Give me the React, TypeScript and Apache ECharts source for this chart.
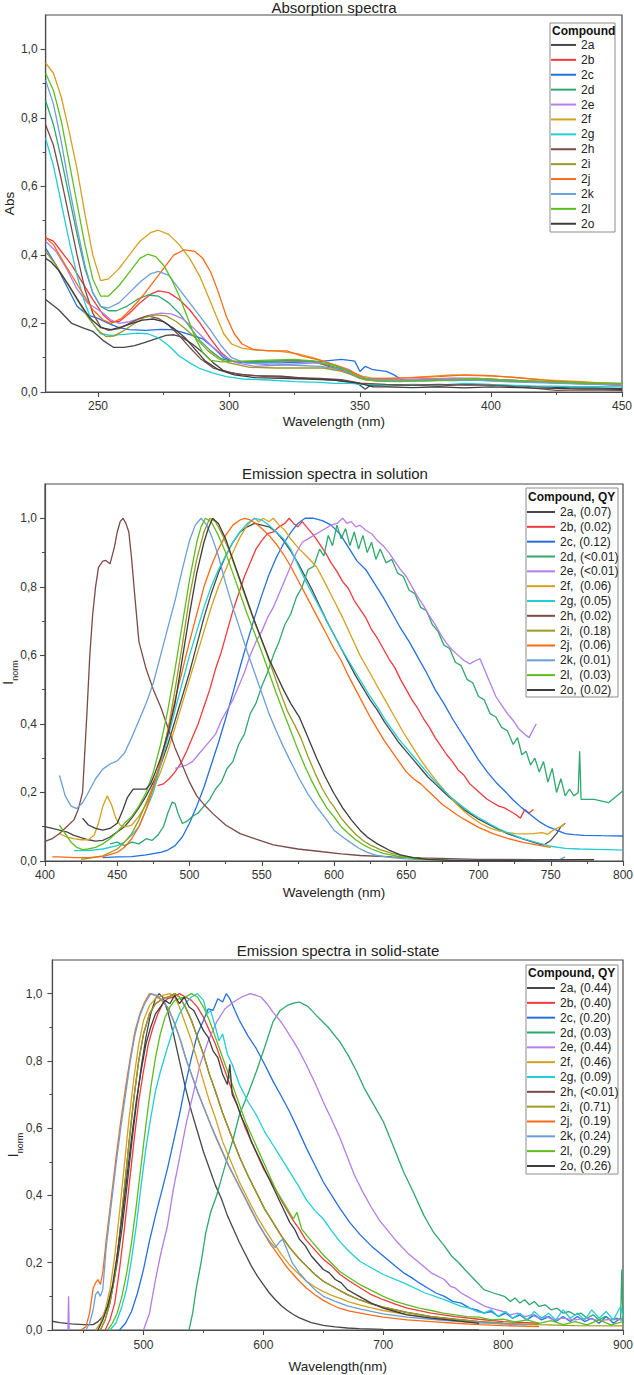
import React, { useEffect, useRef } from 'react';
import * as echarts from 'echarts';

// ---------- labels ----------
const compounds = ['2a', '2b', '2c', '2d', '2e', '2f', '2g', '2h', '2i', '2j', '2k', '2l', '2o'];
const seriesColors = [
  '#474747', '#f2393c', '#2470e0', '#2ea86c', '#b57de8', '#d4a020', '#22cdd5',
  '#7b4b47', '#9c9a20', '#fb6b17', '#6b9fd6', '#5cbe20', '#3d3d3d',
];
const solutionQY = ['(0.07)', '(0.02)', '(0.12)', '(<0.01)', '(<0.01)', '(0.06)', '(0.05)', '(0.02)', '(0.18)', '(0.06)', '(0.01)', '(0.03)', '(0.02)'];
const solidQY = ['(0.44)', '(0.40)', '(0.20)', '(0.03)', '(0.44)', '(0.46)', '(0.09)', '(<0.01)', '(0.71)', '(0.19)', '(0.24)', '(0.29)', '(0.26)'];

// ---------- tick values ----------
const absTicks = [250, 300, 350, 400, 450];
const absMinorTicks = [275, 325, 375, 425];
const solTicks = [400, 450, 500, 550, 600, 650, 700, 750, 800];
const solMinorTicks = [425, 475, 525, 575, 625, 675, 725, 775];
const ssTicks = [500, 600, 700, 800, 900];
const ssMinorTicks = [450, 550, 650, 750, 850];
const yTicks = [0, 0.2, 0.4, 0.6, 0.8, 1.0];
const yMinorTicks = [0.1, 0.3, 0.5, 0.7, 0.9];

// ---------- absorption spectra [wavelength nm, Abs] ----------
const abs2a = [[230,0.27],[235,0.24],[240,0.2],[244,0.188],[248,0.177],[252,0.15],[256,0.13],[260,0.13],[264,0.135],[268,0.145],[272,0.155],[276,0.165],[279,0.167],[282,0.16],[286,0.14],[290,0.115],[294,0.085],[298,0.062],[303,0.052],[310,0.048],[320,0.046],[330,0.04],[340,0.035],[348,0.028],[350,0.02],[352,0.008],[354,0.02],[360,0.018],[370,0.02],[380,0.017],[390,0.022],[400,0.02],[410,0.018],[420,0.015],[430,0.012],[440,0.012],[450,0.01]];
const abs2b = [[230,0.45],[233,0.44],[236,0.41],[240,0.37],[244,0.32],[248,0.27],[252,0.225],[255,0.205],[258,0.205],[262,0.23],[266,0.26],[270,0.285],[273,0.295],[277,0.29],[281,0.27],[285,0.24],[289,0.2],[293,0.155],[297,0.115],[301,0.09],[305,0.087],[315,0.09],[325,0.092],[332,0.09],[338,0.075],[344,0.06],[350,0.04],[355,0.035],[365,0.035],[375,0.038],[385,0.04],[395,0.04],[405,0.035],[420,0.03],[435,0.025],[450,0.02]];
const abs2c = [[230,0.42],[234,0.37],[238,0.31],[242,0.25],[246,0.225],[250,0.215],[254,0.2],[258,0.188],[262,0.182],[268,0.18],[274,0.183],[278,0.182],[282,0.175],[286,0.165],[290,0.155],[294,0.13],[298,0.1],[302,0.088],[310,0.085],[320,0.085],[330,0.088],[336,0.09],[343,0.095],[348,0.09],[350,0.06],[352,0.075],[355,0.065],[360,0.06],[363,0.05],[366,0.035],[375,0.035],[385,0.033],[395,0.035],[405,0.032],[420,0.028],[435,0.025],[450,0.02]];
const abs2d = [[230,0.85],[233,0.78],[236,0.68],[239,0.57],[242,0.46],[245,0.36],[248,0.29],[251,0.25],[254,0.237],[257,0.237],[261,0.25],[265,0.27],[269,0.283],[273,0.28],[277,0.26],[281,0.23],[285,0.19],[289,0.15],[293,0.12],[297,0.097],[301,0.09],[310,0.088],[320,0.09],[330,0.09],[338,0.078],[344,0.065],[350,0.042],[356,0.035],[365,0.033],[375,0.035],[385,0.04],[395,0.038],[405,0.035],[420,0.03],[435,0.025],[450,0.022]];
const abs2e = [[230,0.44],[234,0.41],[238,0.36],[242,0.3],[246,0.26],[249,0.245],[252,0.23],[255,0.21],[258,0.2],[262,0.205],[266,0.215],[270,0.225],[274,0.23],[278,0.228],[282,0.215],[286,0.19],[290,0.16],[294,0.13],[298,0.105],[303,0.085],[310,0.075],[318,0.078],[326,0.082],[334,0.085],[340,0.08],[346,0.065],[350,0.045],[355,0.035],[365,0.035],[375,0.038],[385,0.04],[395,0.04],[405,0.035],[420,0.03],[435,0.027],[450,0.025]];
const abs2f = [[230,0.96],[233,0.93],[236,0.86],[239,0.76],[242,0.65],[245,0.52],[248,0.4],[251,0.325],[254,0.33],[258,0.36],[262,0.4],[266,0.44],[270,0.465],[273,0.472],[277,0.46],[281,0.43],[285,0.39],[289,0.335],[292,0.28],[295,0.225],[298,0.17],[301,0.14],[305,0.128],[310,0.122],[318,0.12],[326,0.112],[332,0.1],[338,0.085],[344,0.068],[350,0.048],[355,0.04],[365,0.04],[375,0.045],[385,0.05],[395,0.048],[405,0.045],[420,0.035],[435,0.03],[450,0.022]];
const abs2g = [[230,0.74],[233,0.66],[236,0.55],[239,0.44],[242,0.34],[245,0.26],[248,0.2],[251,0.17],[255,0.165],[260,0.168],[265,0.172],[269,0.17],[273,0.158],[277,0.135],[281,0.105],[285,0.085],[289,0.068],[294,0.055],[299,0.045],[305,0.038],[315,0.035],[325,0.03],[335,0.028],[340,0.025],[346,0.026],[350,0.022],[360,0.02],[370,0.022],[380,0.02],[390,0.025],[400,0.022],[415,0.018],[430,0.016],[450,0.015]];
const abs2h = [[230,0.78],[233,0.72],[236,0.62],[239,0.51],[242,0.4],[245,0.3],[248,0.23],[251,0.19],[254,0.18],[258,0.185],[262,0.2],[266,0.215],[269,0.222],[273,0.215],[277,0.195],[281,0.165],[285,0.13],[289,0.098],[294,0.07],[300,0.057],[306,0.05],[315,0.045],[325,0.042],[335,0.04],[343,0.036],[350,0.026],[360,0.022],[370,0.02],[380,0.022],[390,0.02],[400,0.02],[410,0.015],[418,0.01],[425,0.005],[435,0.006],[450,0.005]];
const abs2i = [[230,0.41],[234,0.37],[238,0.32],[242,0.27],[246,0.22],[250,0.18],[253,0.162],[256,0.163],[260,0.18],[264,0.2],[268,0.218],[272,0.225],[276,0.222],[280,0.205],[284,0.18],[288,0.152],[292,0.12],[296,0.097],[300,0.085],[308,0.072],[318,0.07],[328,0.07],[336,0.07],[342,0.062],[348,0.048],[352,0.035],[360,0.032],[370,0.033],[380,0.035],[390,0.037],[400,0.035],[415,0.03],[430,0.025],[450,0.02]];
const abs2j = [[230,0.45],[233,0.43],[236,0.39],[240,0.34],[244,0.29],[248,0.24],[252,0.21],[255,0.2],[259,0.215],[263,0.245],[267,0.28],[271,0.32],[275,0.36],[279,0.4],[283,0.415],[287,0.41],[290,0.39],[293,0.35],[296,0.29],[299,0.22],[302,0.17],[305,0.14],[309,0.125],[315,0.12],[322,0.12],[328,0.105],[335,0.092],[342,0.075],[348,0.055],[352,0.04],[360,0.04],[370,0.042],[380,0.045],[390,0.05],[400,0.048],[410,0.042],[425,0.032],[440,0.025],[450,0.02]];
const abs2k = [[230,0.91],[233,0.84],[236,0.73],[239,0.6],[242,0.48],[245,0.37],[248,0.29],[251,0.25],[254,0.245],[258,0.26],[262,0.29],[266,0.32],[270,0.345],[273,0.352],[277,0.34],[281,0.3],[285,0.26],[289,0.22],[293,0.18],[297,0.135],[301,0.1],[306,0.085],[315,0.08],[325,0.078],[335,0.075],[343,0.065],[350,0.042],[356,0.035],[365,0.033],[375,0.032],[385,0.035],[395,0.034],[405,0.03],[420,0.027],[435,0.023],[450,0.02]];
const abs2l = [[230,0.93],[233,0.88],[236,0.79],[239,0.67],[242,0.55],[245,0.43],[248,0.33],[251,0.28],[254,0.28],[258,0.31],[262,0.35],[266,0.39],[269,0.402],[272,0.395],[275,0.37],[278,0.33],[281,0.28],[284,0.22],[287,0.16],[290,0.115],[293,0.092],[297,0.088],[305,0.09],[315,0.093],[325,0.095],[333,0.09],[340,0.078],[346,0.06],[350,0.04],[356,0.032],[365,0.03],[375,0.033],[385,0.035],[395,0.038],[405,0.035],[420,0.03],[435,0.027],[450,0.025]];
const abs2o = [[230,0.39],[232,0.38],[235,0.355],[239,0.31],[243,0.26],[247,0.215],[251,0.188],[255,0.182],[259,0.19],[263,0.2],[267,0.21],[271,0.213],[275,0.205],[279,0.185],[283,0.16],[287,0.125],[291,0.09],[296,0.065],[302,0.05],[310,0.042],[320,0.04],[330,0.038],[340,0.035],[350,0.025],[355,0.015],[360,0.015],[370,0.013],[380,0.015],[390,0.012],[400,0.015],[415,0.012],[430,0.01],[450,0.008]];

// ---------- emission in solution [wavelength nm, normalised intensity] ----------
const sol2a = [[400,0.1],[405,0.095],[410,0.09],[415,0.085],[420,0.075],[425,0.068],[430,0.062],[435,0.058],[440,0.06],[445,0.07],[450,0.085],[455,0.1],[460,0.125],[465,0.155],[470,0.19],[475,0.23],[480,0.28],[485,0.34],[490,0.41],[495,0.48],[500,0.55],[505,0.63],[510,0.71],[515,0.78],[520,0.84],[525,0.89],[530,0.93],[535,0.96],[540,0.975],[545,0.985],[550,0.98],[555,0.975],[560,0.96],[565,0.935],[570,0.905],[575,0.87],[580,0.83],[585,0.79],[590,0.745],[595,0.7],[600,0.66],[605,0.62],[610,0.58],[615,0.54],[620,0.505],[625,0.47],[630,0.44],[635,0.405],[640,0.375],[645,0.345],[650,0.32],[655,0.295],[660,0.27],[665,0.245],[670,0.225],[675,0.205],[680,0.185],[690,0.15],[700,0.122],[710,0.1],[720,0.08],[730,0.065],[740,0.052],[745,0.046],[750,0.06],[754,0.08],[757,0.1],[760,0.11]];
const sol2b = [[478,0.22],[482,0.225],[486,0.24],[490,0.26],[494,0.285],[498,0.32],[502,0.36],[506,0.4],[510,0.45],[514,0.5],[518,0.56],[522,0.61],[526,0.67],[530,0.73],[534,0.78],[538,0.83],[542,0.87],[546,0.91],[550,0.935],[554,0.955],[558,0.96],[562,0.975],[566,0.985],[569,1.0],[572,0.985],[575,0.975],[578,0.99],[582,0.97],[586,0.95],[590,0.925],[594,0.9],[598,0.87],[602,0.845],[606,0.815],[610,0.795],[614,0.76],[618,0.735],[622,0.71],[626,0.675],[630,0.65],[634,0.62],[638,0.59],[642,0.565],[646,0.53],[650,0.5],[654,0.47],[658,0.445],[662,0.415],[666,0.39],[670,0.36],[674,0.335],[678,0.31],[682,0.29],[686,0.265],[690,0.25],[694,0.225],[698,0.21],[702,0.195],[706,0.18],[710,0.17],[714,0.16],[718,0.155],[722,0.145],[726,0.135],[729,0.125],[732,0.15],[735,0.14],[738,0.15]];
const sol2c = [[440,0.01],[450,0.012],[460,0.013],[470,0.018],[480,0.025],[485,0.032],[490,0.045],[495,0.07],[500,0.11],[505,0.16],[510,0.215],[515,0.28],[520,0.345],[525,0.415],[530,0.49],[535,0.566],[540,0.64],[545,0.71],[550,0.775],[555,0.835],[560,0.885],[565,0.925],[570,0.958],[575,0.985],[580,1.0],[586,1.0],[592,0.993],[598,0.98],[604,0.955],[610,0.915],[616,0.875],[622,0.85],[628,0.81],[634,0.77],[640,0.725],[646,0.68],[652,0.64],[658,0.595],[664,0.55],[670,0.5],[676,0.46],[682,0.415],[688,0.375],[694,0.335],[700,0.295],[706,0.26],[712,0.23],[718,0.205],[724,0.178],[730,0.155],[736,0.135],[742,0.115],[748,0.1],[754,0.09],[760,0.08],[766,0.077],[773,0.075],[785,0.074],[800,0.073]];
const sol2d = [[445,0.05],[450,0.055],[455,0.045],[460,0.055],[465,0.05],[470,0.065],[474,0.06],[478,0.075],[482,0.1],[485,0.14],[488,0.172],[490,0.168],[492,0.14],[495,0.11],[498,0.115],[502,0.13],[506,0.14],[510,0.16],[514,0.18],[518,0.21],[522,0.23],[526,0.27],[530,0.29],[534,0.34],[538,0.37],[542,0.43],[546,0.46],[550,0.51],[554,0.55],[558,0.6],[562,0.64],[566,0.69],[570,0.72],[574,0.77],[578,0.8],[582,0.85],[586,0.86],[590,0.91],[593,0.89],[596,0.95],[599,0.92],[602,0.98],[605,0.94],[608,0.97],[611,0.92],[614,0.96],[617,0.91],[620,0.95],[623,0.9],[626,0.93],[629,0.88],[632,0.91],[636,0.87],[640,0.88],[644,0.84],[648,0.83],[652,0.79],[656,0.78],[660,0.74],[664,0.73],[668,0.69],[672,0.67],[676,0.63],[680,0.62],[684,0.58],[688,0.57],[692,0.53],[696,0.52],[700,0.48],[704,0.47],[708,0.43],[712,0.42],[716,0.39],[720,0.38],[724,0.34],[727,0.36],[730,0.31],[733,0.32],[736,0.28],[739,0.3],[742,0.26],[745,0.29],[748,0.23],[751,0.27],[754,0.2],[757,0.24],[760,0.19],[763,0.21],[766,0.19],[769,0.2],[770,0.32],[771,0.18],[780,0.18],[790,0.17],[800,0.205]];
const sol2e = [[490,0.27],[494,0.275],[498,0.28],[502,0.29],[506,0.31],[510,0.33],[514,0.35],[518,0.37],[522,0.41],[526,0.44],[530,0.47],[534,0.51],[538,0.55],[542,0.6],[546,0.64],[550,0.67],[554,0.71],[558,0.74],[562,0.78],[566,0.82],[570,0.86],[574,0.9],[578,0.93],[582,0.94],[586,0.95],[590,0.96],[594,0.97],[598,0.98],[602,0.985],[606,1.0],[609,0.985],[612,0.99],[615,0.975],[618,0.98],[622,0.965],[626,0.955],[630,0.935],[634,0.92],[638,0.9],[642,0.875],[646,0.85],[650,0.83],[654,0.8],[658,0.77],[662,0.745],[666,0.715],[670,0.69],[674,0.66],[678,0.635],[682,0.615],[686,0.6],[690,0.585],[694,0.575],[698,0.585],[701,0.59],[704,0.56],[708,0.52],[712,0.48],[716,0.455],[720,0.43],[724,0.41],[728,0.385],[732,0.37],[735,0.36],[738,0.385],[740,0.4]];
const sol2f = [[410,0.08],[415,0.07],[420,0.065],[425,0.062],[430,0.062],[434,0.075],[437,0.11],[440,0.16],[443,0.19],[446,0.165],[449,0.125],[452,0.105],[456,0.1],[460,0.105],[465,0.13],[470,0.165],[475,0.21],[480,0.26],[485,0.32],[490,0.39],[495,0.46],[500,0.53],[505,0.6],[510,0.67],[515,0.74],[520,0.8],[525,0.85],[530,0.9],[535,0.945],[540,0.98],[545,1.0],[548,0.99],[551,1.0],[555,0.99],[558,1.0],[562,0.98],[566,0.965],[570,0.94],[576,0.91],[582,0.885],[588,0.858],[594,0.81],[600,0.76],[606,0.71],[612,0.655],[618,0.6],[624,0.555],[630,0.51],[636,0.465],[642,0.42],[648,0.375],[654,0.335],[660,0.295],[666,0.26],[672,0.228],[678,0.198],[684,0.17],[690,0.145],[696,0.125],[702,0.108],[708,0.096],[714,0.088],[720,0.083],[726,0.08],[732,0.079],[738,0.08],[744,0.083],[748,0.078],[751,0.088],[754,0.095],[757,0.1],[760,0.11]];
const sol2g = [[420,0.03],[430,0.03],[440,0.035],[450,0.045],[455,0.055],[460,0.075],[465,0.1],[470,0.15],[475,0.2],[480,0.28],[485,0.36],[490,0.44],[495,0.52],[500,0.6],[505,0.67],[510,0.74],[515,0.8],[520,0.85],[525,0.89],[530,0.93],[535,0.96],[540,0.985],[545,1.0],[550,0.995],[555,0.98],[560,0.96],[565,0.94],[570,0.91],[575,0.865],[580,0.82],[585,0.78],[590,0.74],[595,0.7],[600,0.66],[605,0.62],[610,0.585],[615,0.55],[620,0.515],[625,0.48],[630,0.45],[635,0.415],[640,0.385],[645,0.355],[650,0.33],[655,0.305],[660,0.28],[665,0.255],[670,0.232],[675,0.21],[680,0.19],[685,0.172],[690,0.155],[695,0.14],[700,0.127],[705,0.115],[710,0.103],[715,0.092],[720,0.083],[730,0.066],[740,0.054],[750,0.043],[760,0.037],[770,0.035],[780,0.034],[790,0.033],[800,0.032]];
const sol2h = [[400,0.057],[405,0.065],[410,0.08],[415,0.1],[420,0.12],[423,0.15],[426,0.2],[429,0.43],[431,0.6],[433,0.72],[435,0.8],[437,0.857],[440,0.875],[442,0.877],[445,0.867],[448,0.915],[450,0.96],[452,0.99],[454,1.0],[456,0.985],[458,0.96],[460,0.88],[462,0.78],[465,0.64],[470,0.56],[475,0.5],[480,0.45],[485,0.39],[490,0.33],[495,0.28],[500,0.23],[505,0.19],[510,0.165],[516,0.139],[525,0.105],[535,0.08],[545,0.065],[558,0.047],[575,0.035],[592,0.027],[605,0.021],[618,0.016],[640,0.012],[660,0.009],[680,0.007],[700,0.005],[740,0.004],[780,0.004]];
const sol2i = [[425,0.005],[430,0.008],[440,0.015],[450,0.035],[455,0.055],[460,0.08],[465,0.12],[470,0.17],[475,0.22],[480,0.29],[485,0.38],[490,0.5],[495,0.63],[500,0.77],[505,0.88],[510,0.96],[514,1.0],[518,0.99],[523,0.95],[528,0.9],[533,0.84],[538,0.78],[543,0.72],[548,0.665],[553,0.61],[558,0.55],[563,0.49],[568,0.435],[573,0.395],[577,0.36],[582,0.305],[587,0.255],[592,0.21],[597,0.175],[600,0.158],[605,0.125],[610,0.1],[615,0.078],[620,0.06],[625,0.047],[632,0.033],[640,0.022],[650,0.012],[665,0.005],[680,0.002]];
const sol2j = [[405,0.012],[410,0.012],[420,0.01],[430,0.01],[440,0.013],[450,0.025],[455,0.04],[460,0.065],[465,0.1],[470,0.15],[475,0.215],[480,0.29],[485,0.38],[490,0.47],[495,0.555],[500,0.64],[505,0.72],[510,0.8],[515,0.86],[520,0.91],[525,0.95],[530,0.98],[535,0.995],[538,1.0],[542,0.995],[546,0.985],[550,0.97],[555,0.95],[560,0.925],[565,0.895],[570,0.86],[575,0.82],[580,0.78],[585,0.74],[590,0.7],[595,0.66],[600,0.62],[605,0.585],[610,0.54],[615,0.5],[620,0.46],[625,0.42],[630,0.385],[635,0.35],[640,0.32],[645,0.29],[650,0.26],[655,0.24],[660,0.225],[665,0.205],[670,0.185],[675,0.165],[680,0.15],[685,0.135],[690,0.122],[700,0.098],[710,0.08],[720,0.066],[730,0.055],[740,0.047],[750,0.04]];
const sol2k = [[410,0.25],[414,0.19],[418,0.16],[422,0.153],[426,0.17],[430,0.2],[435,0.24],[440,0.268],[445,0.283],[450,0.292],[455,0.315],[460,0.36],[465,0.41],[470,0.46],[475,0.52],[480,0.6],[485,0.68],[490,0.76],[495,0.85],[500,0.935],[504,0.98],[508,1.0],[512,0.98],[516,0.94],[520,0.89],[525,0.81],[530,0.74],[535,0.675],[540,0.61],[545,0.55],[550,0.49],[555,0.43],[560,0.38],[565,0.333],[570,0.29],[576,0.24],[582,0.195],[588,0.158],[594,0.125],[600,0.09],[606,0.07],[611,0.055],[617,0.038],[623,0.025],[630,0.016],[640,0.01],[650,0.006],[660,0.004],[700,0.002],[755,0.002],[760,0.012]];
const sol2l = [[410,0.105],[414,0.08],[418,0.055],[422,0.04],[426,0.033],[430,0.035],[435,0.04],[440,0.05],[445,0.065],[450,0.085],[455,0.11],[460,0.13],[465,0.16],[470,0.2],[475,0.26],[480,0.34],[485,0.44],[490,0.56],[495,0.69],[500,0.82],[505,0.93],[508,0.975],[511,1.0],[515,0.99],[520,0.95],[525,0.9],[530,0.84],[535,0.78],[540,0.72],[545,0.665],[550,0.61],[555,0.55],[560,0.49],[565,0.435],[570,0.38],[575,0.325],[580,0.275],[585,0.23],[590,0.19],[595,0.155],[600,0.129],[605,0.1],[610,0.08],[615,0.062],[620,0.048],[626,0.035],[634,0.022],[646,0.012],[660,0.005],[680,0.002]];
const sol2o = [[426,0.125],[430,0.105],[435,0.095],[440,0.09],[445,0.095],[450,0.11],[454,0.15],[457,0.185],[461,0.21],[466,0.21],[470,0.21],[473,0.225],[476,0.255],[480,0.3],[485,0.37],[490,0.46],[495,0.59],[500,0.72],[505,0.84],[510,0.93],[513,0.97],[516,1.0],[520,0.985],[525,0.94],[530,0.88],[535,0.82],[540,0.76],[545,0.7],[550,0.645],[555,0.59],[560,0.545],[565,0.5],[570,0.46],[576,0.42],[582,0.36],[588,0.3],[594,0.245],[600,0.197],[606,0.155],[612,0.12],[618,0.09],[623,0.07],[630,0.05],[638,0.032],[646,0.018],[655,0.01],[665,0.005],[680,0.002],[720,0.002],[780,0.004]];

// ---------- emission in solid state [wavelength nm, normalised intensity] ----------
const ss2a = [[424,0.026],[430,0.022],[440,0.018],[450,0.016],[458,0.016],[462,0.025],[466,0.04],[470,0.07],[474,0.12],[478,0.2],[482,0.3],[486,0.42],[490,0.55],[494,0.67],[498,0.78],[502,0.87],[506,0.94],[510,0.985],[513,1.0],[516,0.99],[520,0.95],[525,0.88],[530,0.8],[535,0.72],[540,0.65],[545,0.59],[550,0.53],[555,0.48],[560,0.43],[565,0.39],[570,0.34],[575,0.3],[580,0.26],[585,0.225],[590,0.19],[595,0.16],[600,0.135],[605,0.11],[610,0.09],[615,0.072],[620,0.058],[625,0.046],[630,0.036],[640,0.022],[650,0.014],[660,0.009],[670,0.006],[680,0.004],[700,0.002],[740,0.001],[780,0]];
const ss2b = [[468,0],[472,0.03],[476,0.08],[480,0.18],[484,0.3],[488,0.43],[492,0.56],[496,0.68],[500,0.77],[504,0.85],[508,0.9],[512,0.94],[516,0.97],[520,0.985],[525,0.99],[530,1.0],[535,0.99],[540,0.98],[545,0.96],[550,0.93],[555,0.89],[560,0.85],[565,0.8],[570,0.75],[575,0.7],[580,0.65],[585,0.6],[590,0.56],[595,0.52],[600,0.48],[605,0.45],[610,0.42],[615,0.385],[620,0.355],[625,0.325],[630,0.3],[635,0.27],[640,0.25],[645,0.23],[650,0.21],[657,0.19],[664,0.165],[672,0.145],[681,0.125],[690,0.105],[700,0.09],[710,0.077],[720,0.065],[740,0.05],[760,0.04],[780,0.032],[800,0.025],[830,0.02]];
const ss2c = [[480,0],[485,0.02],[490,0.055],[495,0.11],[500,0.18],[505,0.265],[510,0.34],[515,0.41],[520,0.48],[525,0.56],[530,0.64],[535,0.73],[540,0.81],[545,0.88],[550,0.92],[554,0.955],[558,0.95],[562,0.985],[566,0.975],[569,1.0],[572,0.985],[575,0.96],[580,0.92],[587,0.875],[594,0.837],[601,0.79],[608,0.74],[615,0.695],[622,0.648],[629,0.595],[636,0.54],[643,0.49],[650,0.44],[657,0.4],[664,0.361],[672,0.32],[681,0.282],[690,0.25],[700,0.22],[710,0.19],[717,0.17],[724,0.155],[730,0.14],[737,0.125],[744,0.11],[751,0.1],[758,0.085],[765,0.08],[772,0.065],[778,0.06],[784,0.05],[790,0.055],[796,0.04],[802,0.05],[808,0.035],[814,0.045],[820,0.03],[826,0.045],[832,0.03],[838,0.04],[844,0.025],[850,0.04],[856,0.025],[862,0.04],[868,0.025],[874,0.035],[880,0.02],[886,0.04],[892,0.02],[898,0.035],[900,0.025]];
const ss2d = [[538,0],[541,0.05],[544,0.124],[548,0.2],[552,0.29],[556,0.35],[561,0.4],[565,0.45],[569,0.5],[575,0.57],[580,0.64],[587,0.7],[594,0.767],[601,0.84],[608,0.916],[614,0.95],[620,0.965],[625,0.972],[630,0.975],[637,0.962],[644,0.936],[654,0.9],[664,0.856],[671,0.815],[678,0.767],[684,0.72],[692,0.67],[700,0.62],[708,0.55],[717,0.47],[725,0.41],[734,0.34],[742,0.29],[751,0.25],[757,0.22],[763,0.2],[768,0.18],[776,0.15],[784,0.12],[792,0.11],[801,0.1],[806,0.085],[810,0.095],[814,0.08],[818,0.09],[822,0.075],[826,0.085],[830,0.07],[835,0.075],[840,0.06],[845,0.065],[850,0.05],[855,0.055],[860,0.045],[865,0.05],[870,0.035],[875,0.045],[880,0.03],[885,0.04],[890,0.03],[895,0.035],[898,0.03],[899,0.18],[900,0.02]];
const ss2e = [[437,0],[437.5,0.1],[438,0],[470,null],[500,0],[505,0.05],[510,0.15],[514,0.22],[520,0.31],[525,0.42],[530,0.51],[536,0.62],[542,0.71],[547,0.787],[554,0.86],[561,0.916],[568,0.955],[575,0.975],[582,0.99],[589,1.0],[594,0.995],[598,0.99],[603,0.97],[608,0.945],[615,0.915],[622,0.876],[629,0.835],[636,0.787],[643,0.735],[650,0.678],[657,0.625],[664,0.57],[670,0.515],[676,0.46],[683,0.41],[690,0.365],[697,0.325],[705,0.29],[712,0.26],[720,0.23],[730,0.2],[740,0.17],[751,0.15],[756,0.13],[760,0.125],[765,0.11],[770,0.1],[775,0.09],[780,0.08],[785,0.07],[790,0.065],[795,0.06],[800,0.055],[806,0.045],[812,0.05],[818,0.04],[824,0.045],[830,0.035],[836,0.04],[842,0.03],[850,0.035],[860,0.03],[870,0.035],[880,0.028],[890,0.032],[900,0.03]];
const ss2f = [[460,0],[464,0.02],[468,0.06],[472,0.12],[476,0.22],[480,0.35],[484,0.49],[488,0.63],[492,0.75],[496,0.85],[500,0.92],[505,0.965],[510,0.985],[516,0.995],[522,1.0],[526,0.99],[530,0.96],[535,0.91],[540,0.86],[545,0.8],[550,0.74],[555,0.68],[560,0.63],[566,0.56],[573,0.5],[580,0.44],[587,0.39],[594,0.342],[601,0.3],[608,0.262],[615,0.225],[622,0.193],[629,0.168],[636,0.145],[643,0.128],[650,0.114],[657,0.103],[664,0.094],[672,0.083],[681,0.074],[690,0.066],[700,0.058],[720,0.046],[740,0.036],[760,0.028],[780,0.022],[800,0.018],[830,0.015]];
const ss2g = [[472,0],[477,0.02],[482,0.07],[486,0.124],[490,0.21],[494,0.31],[498,0.43],[502,0.54],[506,0.63],[510,0.71],[514,0.767],[520,0.84],[525,0.896],[530,0.94],[536,0.975],[540,0.99],[545,1.0],[550,0.98],[553,0.94],[556,0.95],[560,0.9],[563,0.86],[566,0.88],[570,0.82],[574,0.79],[580,0.73],[587,0.68],[594,0.64],[601,0.59],[608,0.55],[615,0.51],[622,0.47],[629,0.43],[636,0.386],[643,0.355],[650,0.33],[657,0.295],[664,0.262],[672,0.232],[681,0.203],[690,0.185],[700,0.165],[717,0.14],[735,0.11],[751,0.09],[758,0.08],[765,0.07],[772,0.065],[778,0.055],[784,0.05],[790,0.06],[796,0.04],[802,0.055],[808,0.035],[814,0.05],[820,0.03],[826,0.055],[832,0.035],[838,0.05],[844,0.03],[850,0.06],[856,0.035],[862,0.05],[868,0.03],[874,0.06],[880,0.035],[886,0.055],[892,0.03],[898,0.07],[900,0.04]];
const ss2h = [[464,0],[468,0.03],[472,0.08],[476,0.16],[480,0.28],[484,0.42],[488,0.56],[492,0.69],[496,0.8],[500,0.88],[505,0.94],[510,0.97],[516,0.985],[521,0.99],[526,1.0],[530,0.99],[535,0.96],[540,0.92],[545,0.87],[550,0.82],[555,0.76],[560,0.71],[566,0.645],[573,0.58],[580,0.515],[587,0.46],[594,0.41],[601,0.36],[608,0.32],[615,0.28],[622,0.245],[629,0.215],[636,0.19],[643,0.165],[650,0.145],[660,0.125],[670,0.105],[680,0.09],[690,0.078],[700,0.068],[720,0.052],[740,0.04],[760,0.032],[780,0.025],[800,0.02]];
const ss2i = [[464,0],[468,0.03],[472,0.08],[476,0.16],[480,0.28],[484,0.42],[488,0.56],[492,0.69],[496,0.8],[500,0.88],[505,0.94],[510,0.97],[516,0.985],[521,0.99],[526,1.0],[530,0.99],[535,0.96],[540,0.92],[545,0.87],[550,0.82],[555,0.76],[560,0.71],[566,0.645],[573,0.58],[580,0.515],[587,0.46],[594,0.41],[601,0.36],[608,0.32],[615,0.28],[622,0.245],[629,0.215],[636,0.19],[643,0.165],[650,0.145],[660,0.125],[670,0.105],[680,0.09],[690,0.078],[700,0.068],[720,0.052],[740,0.04],[760,0.032],[780,0.025],[800,0.02],[830,0.016],[860,0.013],[900,0.012]];
const ss2j = [[448,0],[452,0.01],[455,0.05],[458,0.124],[460,0.14],[462,0.15],[464,0.135],[466,0.17],[469,0.27],[473,0.39],[477,0.51],[481,0.62],[485,0.72],[489,0.81],[493,0.89],[497,0.94],[501,0.975],[505,1.0],[510,0.995],[515,0.98],[520,0.96],[525,0.92],[530,0.87],[535,0.81],[540,0.76],[545,0.71],[550,0.665],[555,0.62],[560,0.575],[565,0.535],[570,0.495],[575,0.46],[580,0.425],[585,0.39],[590,0.355],[595,0.32],[600,0.29],[605,0.26],[610,0.235],[615,0.21],[620,0.185],[625,0.165],[630,0.145],[636,0.124],[643,0.105],[650,0.088],[657,0.075],[664,0.064],[672,0.056],[681,0.05],[690,0.044],[700,0.038],[720,0.03],[740,0.025],[760,0.02],[780,0.016],[800,0.013],[830,0.01]];
const ss2k = [[452,0],[455,0.02],[458,0.06],[460,0.105],[462,0.115],[464,0.1],[466,0.12],[469,0.25],[473,0.37],[477,0.49],[481,0.6],[485,0.7],[489,0.8],[493,0.88],[497,0.935],[501,0.97],[506,1.0],[511,0.995],[516,0.98],[521,0.955],[526,0.91],[531,0.86],[536,0.8],[541,0.75],[546,0.7],[551,0.655],[556,0.61],[561,0.57],[566,0.53],[571,0.49],[576,0.455],[581,0.42],[586,0.385],[591,0.35],[596,0.315],[601,0.285],[606,0.26],[610,0.245],[613,0.26],[616,0.27],[619,0.245],[624,0.2],[630,0.17],[636,0.145],[643,0.12],[650,0.1],[660,0.085],[670,0.072],[681,0.062],[700,0.048],[720,0.038],[740,0.032],[760,0.026],[780,0.022],[800,0.018],[820,0.015]];
const ss2l = [[470,0],[474,0.02],[478,0.05],[482,0.1],[486,0.17],[490,0.26],[494,0.37],[498,0.49],[502,0.61],[506,0.72],[510,0.81],[514,0.88],[518,0.93],[522,0.96],[526,0.98],[530,0.985],[535,0.99],[540,1.0],[545,0.99],[550,0.96],[555,0.92],[560,0.87],[565,0.82],[570,0.77],[575,0.72],[580,0.67],[585,0.62],[590,0.58],[595,0.54],[600,0.5],[605,0.46],[610,0.42],[615,0.39],[620,0.36],[625,0.33],[628,0.35],[632,0.3],[640,0.265],[650,0.223],[664,0.173],[681,0.134],[700,0.1],[710,0.085],[720,0.075],[730,0.065],[740,0.058],[750,0.05],[760,0.045],[770,0.04],[780,0.038],[790,0.03],[800,0.032],[810,0.024],[820,0.03],[830,0.02],[840,0.028],[850,0.016],[860,0.025],[870,0.015],[880,0.03],[890,0.015],[900,0.025]];
const ss2o = [[462,0],[466,0.03],[470,0.07],[474,0.13],[478,0.22],[482,0.33],[486,0.45],[490,0.57],[494,0.68],[498,0.77],[502,0.85],[506,0.9],[510,0.94],[514,0.96],[518,0.98],[522,0.97],[526,0.995],[530,0.97],[534,0.99],[538,0.96],[542,0.95],[546,0.92],[550,0.89],[554,0.87],[558,0.83],[562,0.81],[566,0.76],[570,0.73],[572,0.79],[574,0.7],[578,0.67],[582,0.63],[586,0.6],[590,0.56],[594,0.53],[598,0.5],[602,0.47],[606,0.44],[610,0.41],[614,0.38],[618,0.35],[622,0.32],[626,0.3],[630,0.27],[635,0.25],[640,0.22],[645,0.2],[650,0.18],[655,0.17],[660,0.15],[665,0.14],[670,0.12],[675,0.11],[680,0.1],[690,0.08],[700,0.065],[710,0.055],[720,0.045],[740,0.035],[760,0.028],[780,0.02]];

const absData = [abs2a, abs2b, abs2c, abs2d, abs2e, abs2f, abs2g, abs2h, abs2i, abs2j, abs2k, abs2l, abs2o];
const solData = [sol2a, sol2b, sol2c, sol2d, sol2e, sol2f, sol2g, sol2h, sol2i, sol2j, sol2k, sol2l, sol2o];
const ssData = [ss2a, ss2b, ss2c, ss2d, ss2e, ss2f, ss2g, ss2h, ss2i, ss2j, ss2k, ss2l, ss2o];

// legend entries; narrow compound letters get an extra space as in the original labels
const pad = (c: string) => (['2f', '2i', '2j', '2l'].includes(c) ? '  ' : ' ');
const absNames = compounds;
const solNames = compounds.map((c, i) => `${c},${pad(c)}${solutionQY[i]}`);
const ssNames = compounds.map((c, i) => `${c},${pad(c)}${solidQY[i]}`);

const FONT = '"Liberation Sans", Arial, Helvetica, sans-serif';
const AXIS = '#4a4a4a';
const comma = (v: number) => v.toFixed(1).replace('.', ',');

const panels = [
  {
    grid: { left: 45.6, top: 15, width: 576.4, height: 377 },
    xMin: 230, xMax: 450, xTicks: absTicks, xMinor: absMinorTicks,
    xName: 'Wavelength (nm)', xNameGap: 22, xLabelMargin: 8,
    yName: 'Abs', yNameGap: 29, yLabelMargin: 8,
    title: 'Absorption spectra', titleX: 334, titleY: 0,
    names: absNames, data: absData,
    box: [550, 23, 65, 209], legendHead: 'Compound', headX: 552, headY: 31,
    legendLeft: 551, legendTop: 37.5, iconW: 25, spacing: 14.9,
  },
  {
    grid: { left: 45, top: 484, width: 578, height: 377 },
    xMin: 400, xMax: 800, xTicks: solTicks, xMinor: solMinorTicks,
    xName: 'Wavelength (nm)', xNameGap: 24, xLabelMargin: 8,
    yName: 'I', yNameGap: 26, yLabelMargin: 8,
    title: 'Emission spectra in solution', titleX: 335, titleY: 466,
    names: solNames, data: solData,
    box: [526, 488, 92, 209], legendHead: 'Compound, QY', headX: 528, headY: 497,
    legendLeft: 527, legendTop: 504.6, iconW: 28, spacing: 14.83,
  },
  {
    grid: { left: 52.4, top: 960, width: 570.6, height: 370 },
    xMin: 424, xMax: 900, xTicks: ssTicks, xMinor: ssMinorTicks,
    xName: 'Wavelength(nm)', xNameGap: 29, xLabelMargin: 9,
    yName: 'I', yNameGap: 28, yLabelMargin: 10,
    title: 'Emission spectra in solid-state', titleX: 338, titleY: 943,
    names: ssNames, data: ssData,
    box: [526, 965, 92, 209], legendHead: 'Compound, QY', headX: 528, headY: 973,
    legendLeft: 527, legendTop: 980.6, iconW: 28, spacing: 14.83,
  },
];

function buildOption() {
  const xAxis: any[] = [];
  const yAxis: any[] = [];
  const series: any[] = [];
  const legend: any[] = [];
  const title: any[] = [];
  const graphic: any[] = [];

  panels.forEach((p, pi) => {
    xAxis[pi] = {
      type: 'value', gridIndex: pi, min: p.xMin, max: p.xMax, position: 'bottom',
      axisLine: { show: true, onZero: false, lineStyle: { color: AXIS, width: 1.2 } },
      axisTick: { show: true, inside: false, length: 5, customValues: p.xTicks, lineStyle: { color: AXIS, width: 1.1 } },
      axisLabel: { customValues: p.xTicks, margin: p.xLabelMargin, fontSize: 12, color: '#333', fontFamily: FONT },
      splitLine: { show: false },
      name: p.xName, nameLocation: 'middle', nameGap: p.xNameGap, nameMoveOverlap: false,
      nameTextStyle: { fontSize: 13.5, color: '#222', fontFamily: FONT },
    };
    xAxis[pi + 3] = {
      type: 'value', gridIndex: pi, min: p.xMin, max: p.xMax, position: 'bottom',
      axisLine: { show: false },
      axisTick: { show: true, inside: false, length: 3, customValues: p.xMinor, lineStyle: { color: AXIS, width: 1 } },
      axisLabel: { show: false },
      splitLine: { show: false },
    };
    const isNorm = pi > 0;
    yAxis[pi] = {
      type: 'value', gridIndex: pi, min: 0, max: 1.1, position: 'left',
      axisLine: { show: true, onZero: false, lineStyle: { color: AXIS, width: 1.2 } },
      axisTick: { show: true, inside: false, length: 5, customValues: yTicks, lineStyle: { color: AXIS, width: 1.1 } },
      axisLabel: {
        customValues: yTicks, margin: p.yLabelMargin, fontSize: 12, color: '#333', fontFamily: FONT,
        formatter: (v: number) => comma(v),
      },
      splitLine: { show: false },
      name: isNorm ? '{a|I}{b|norm}' : p.yName,
      nameLocation: 'middle', nameGap: p.yNameGap, nameRotate: 90, nameMoveOverlap: false,
      nameTextStyle: isNorm
        ? {
            fontFamily: FONT, color: '#222',
            rich: {
              a: { fontSize: 14, fontFamily: FONT, color: '#222', verticalAlign: 'bottom', padding: [0, 0, 4, 0] },
              b: { fontSize: 9, fontFamily: FONT, color: '#222', verticalAlign: 'bottom' },
            },
          }
        : { fontSize: 13.5, color: '#222', fontFamily: FONT },
    };
    yAxis[pi + 3] = {
      type: 'value', gridIndex: pi, min: 0, max: 1.1, position: 'left',
      axisLine: { show: false },
      axisTick: { show: true, inside: false, length: 3, customValues: yMinorTicks, lineStyle: { color: AXIS, width: 1 } },
      axisLabel: { show: false },
      splitLine: { show: false },
    };

    p.data.forEach((d, si) => {
      series.push({
        type: 'line', name: p.names[si], xAxisIndex: pi, yAxisIndex: pi,
        data: d, showSymbol: false, symbol: 'none', connectNulls: false,
        color: seriesColors[si],
        lineStyle: { width: 1.3, color: seriesColors[si] },
        emphasis: { disabled: true }, silent: true,
      });
    });

    legend.push({
      data: p.names, left: p.legendLeft, top: p.legendTop, orient: 'vertical',
      icon: 'rect', itemWidth: p.iconW, itemHeight: 2, itemGap: 0, padding: 0,
      selectedMode: false,
      textStyle: { fontSize: 12, lineHeight: p.spacing, color: '#222', fontFamily: FONT },
    });

    title.push({
      text: p.title, left: p.titleX, top: p.titleY, textAlign: 'center', padding: 0,
      textStyle: { fontSize: 15, fontWeight: 'normal', color: '#222', fontFamily: FONT },
    });

    graphic.push({
      type: 'rect', shape: { x: p.box[0], y: p.box[1], width: p.box[2], height: p.box[3] },
      style: { fill: '#fff', stroke: '#8c8c8c', lineWidth: 1 }, z: -1, silent: true,
    });
    graphic.push({
      type: 'text', x: p.headX, y: p.headY, silent: true,
      style: {
        text: p.legendHead, fill: '#111', font: `bold 12px ${FONT}`,
        textAlign: 'left', textVerticalAlign: 'middle',
      },
    });
  });

  return {
    animation: false,
    backgroundColor: '#fff',
    textStyle: { fontFamily: FONT },
    title,
    grid: panels.map((p) => ({
      ...p.grid, show: true, borderColor: AXIS, borderWidth: 1.2, backgroundColor: 'transparent',
      containLabel: false, outerBoundsMode: 'none',
    })),
    xAxis,
    yAxis,
    legend,
    graphic,
    series,
  };
}

export default function App() {
  const ref = useRef<HTMLDivElement>(null);
  useEffect(() => {
    if (!ref.current) return;
    const chart = echarts.init(ref.current, undefined, { renderer: 'svg' });
    chart.setOption(buildOption());
    return () => chart.dispose();
  }, []);
  return (
    <div
      ref={ref}
      style={{ position: 'absolute', left: 0, top: 0, width: 634, height: 1375, background: '#fff' }}
    />
  );
}
